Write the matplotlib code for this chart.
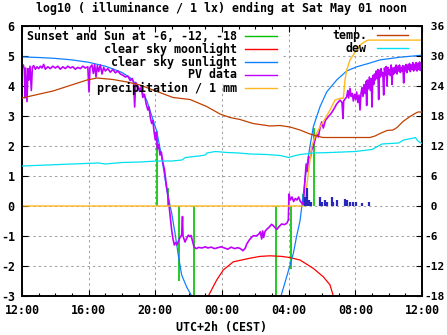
import numpy as np
import matplotlib
matplotlib.use("Agg")
import matplotlib.pyplot as plt
from matplotlib.lines import Line2D

W, H, DPI = 447, 335, 100

# ---- time axis: hours after 12:00 local time (UTC+2) ----
hour_ticks = [0, 4, 8, 12, 16, 20, 24]
hour_labels = ["12:00", "16:00", "20:00", "00:00", "04:00", "08:00", "12:00"]
left_ticks = list(range(-3, 7))
right_ticks = list(range(-18, 37, 6))

# sunset, sun at -6/-12/-18 deg (evening), then -18/-12/-6 deg and sunrise (morning)
sun_hours = [8.12, 8.74, 9.44, 10.34, 15.26, 16.12, 16.88, 17.52]
sun_levels = [2.5, 0.6, -2.5, -3.5, -3.5, -2.1, 0.4, 2.6]

# clear sky moonlight, log10 lx
moon_hours = [11.0, 11.18, 11.68, 12.08, 12.68, 13.68, 14.28, 14.88, 15.58,
              16.08, 16.68, 17.48, 18.08, 18.48, 18.68, 18.8]
moon_levels = [-3.3, -3.0, -2.47, -2.13, -1.86, -1.74, -1.68, -1.66, -1.68,
               -1.72, -1.8, -2.08, -2.36, -2.63, -3.0, -3.3]

# clear sky sunlight, log10 lx (no value while the sun is far below the horizon)
clear_hours = [0, 1, 2, 3, 4, 5, 5.5, 6, 6.5, 7, 7.3, 7.5, 7.8, 8.08, 8.38,
               8.68, 8.98, 9.18, 9.38, 9.58, 9.88, 10.18, 10.4, 12.0,
               15.4, 15.54, 15.88, 16.28, 16.48, 16.68, 16.88, 17.08, 17.28,
               17.48, 17.88, 18.28, 18.88, 19.48, 20.08, 20.78, 21.48, 22.68,
               23.88, 24]
clear_levels = [4.97, 4.95, 4.92, 4.87, 4.79, 4.66, 4.56, 4.45, 4.27, 3.95,
                3.72, 3.5, 2.98, 2.5, 1.64, 0.55, -0.24, -0.9, -1.65, -2.3,
                -2.7, -3.0, -3.3, np.nan,
                -3.3, -3.0, -2.36, -1.58, -1.0, -0.5, 0.4, 1.3, 2.0,
                2.64, 3.31, 3.8, 4.2, 4.5, 4.64, 4.75, 4.87, 4.96,
                5.02, 5.03]

# photovoltaic sensor, log10 lx
pv_hours = [
    0.00, 0.08, 0.14, 0.18, 0.22, 0.30, 0.36, 0.42, 0.48, 0.56, 0.62, 0.70,
    0.80, 0.90, 1.00, 1.10, 1.20, 1.30, 1.40, 1.55, 1.70, 1.85, 2.00, 2.15,
    2.30, 2.45, 2.60, 2.75, 2.90, 3.05, 3.20, 3.35, 3.50, 3.65, 3.80, 3.95,
    4.02, 4.08, 4.20, 4.28, 4.36, 4.44, 4.52, 4.60, 4.70, 4.80, 4.90, 5.00,
    5.15, 5.30, 5.45, 5.60, 5.75, 5.90, 6.05, 6.20, 6.35, 6.50, 6.62, 6.70,
    6.76, 6.82, 6.95, 7.05, 7.15, 7.25, 7.35, 7.45, 7.55, 7.62, 7.70, 7.78,
    7.85, 7.92, 8.00, 8.05, 8.12, 8.20, 8.28, 8.36, 8.45, 8.55, 8.65, 8.75,
    8.82, 8.90, 8.98, 9.06, 9.14, 9.22, 9.30, 9.38, 9.48, 9.58, 9.63, 9.66,
    9.78, 9.88, 9.98, 10.06, 10.14, 10.22, 10.32, 10.45, 10.60, 10.80, 11.00,
    11.15, 11.35, 11.55, 11.75, 11.95, 12.15, 12.35, 12.55, 12.75, 12.95,
    13.10, 13.26, 13.40, 13.48, 13.64, 13.76, 13.88, 14.05, 14.20, 14.30,
    14.38, 14.44, 14.50, 14.58, 14.68, 14.80, 14.98, 15.08, 15.18, 15.30,
    15.40, 15.58, 15.75, 15.88, 15.98, 16.02, 16.10, 16.20, 16.30, 16.40,
    16.50, 16.60, 16.70, 16.80, 16.88, 16.98, 17.05, 17.12, 17.20, 17.30,
    17.38, 17.48, 17.58, 17.68, 17.78, 17.88, 17.98, 18.08, 18.20, 18.38,
    18.50, 18.68, 18.88, 19.08, 19.20, 19.26, 19.30, 19.48, 19.55, 19.60,
    19.68, 19.75, 19.82, 19.88, 19.95, 20.02, 20.08, 20.15, 20.22, 20.28,
    20.34, 20.40, 20.46, 20.52, 20.58, 20.64, 20.68, 20.72, 20.78, 20.84,
    20.90, 20.96, 21.00, 21.05, 21.10, 21.15, 21.20, 21.25, 21.30, 21.35,
    21.40, 21.45, 21.50, 21.55, 21.60, 21.65, 21.70, 21.75, 21.80, 21.85,
    21.90, 21.95, 22.00, 22.05, 22.10, 22.15, 22.20, 22.25, 22.30, 22.35,
    22.40, 22.45, 22.50, 22.55, 22.60, 22.65, 22.70, 22.75, 22.80, 22.85,
    22.90, 22.95, 23.00, 23.05, 23.10, 23.15, 23.20, 23.25, 23.30, 23.35,
    23.40, 23.45, 23.50, 23.55, 23.60, 23.65, 23.70, 23.75, 23.80, 23.85,
    23.90, 23.95, 24.00]
pv_levels = [
    4.62, 4.70, 4.55, 3.60, 4.60, 3.48, 4.58, 4.20, 4.66, 3.85, 4.62, 4.68,
    4.56, 4.64, 4.58, 4.66, 4.60, 4.72, 4.56, 4.64, 4.58, 4.66, 4.60, 4.66,
    4.56, 4.64, 4.58, 4.66, 4.60, 4.64, 4.56, 4.62, 4.58, 4.66, 4.60, 4.64,
    3.80, 4.62, 4.70, 4.42, 4.72, 4.30, 4.68, 4.48, 4.70, 4.40, 4.62, 4.50,
    4.58, 4.46, 4.55, 4.44, 4.50, 4.40, 4.36, 4.30, 4.33, 4.18, 4.25, 4.10,
    3.30, 4.12, 4.00, 3.82, 3.96, 3.62, 3.72, 3.40, 3.20, 3.30, 2.95, 2.75,
    2.85, 2.50, 2.20, 2.45, 1.90, 2.05, 1.70, 1.80, 1.45, 1.20, 0.75, 0.35,
    0.03, -0.40, -0.80, -1.10, -1.30, -1.22, -1.30, -1.18, -1.05, -0.97, -0.35, -1.00,
    -1.20, -1.08, -0.97, -1.02, -0.98, -1.15, -1.36, -1.42, -1.38, -1.40, -1.36,
    -1.40, -1.37, -1.42, -1.39, -1.36, -1.40, -1.44, -1.37, -1.42, -1.39,
    -1.42, -1.49, -1.40, -1.27, -1.13, -1.05, -0.99, -1.00, -0.94, -0.86,
    -1.10, -0.83, -1.05, -0.85, -0.78, -0.72, -0.61, -0.66, -0.72, -0.78,
    -0.70, -0.60, -0.62, -0.58, -0.47, 0.40, 0.20, 0.30, 0.15, 0.25,
    0.20, 0.30, 0.15, 0.10, 0.05, 0.90, 1.40, 1.15, 1.64, 1.60,
    1.87, 2.00, 2.20, 2.40, 2.30, 2.60, 2.80, 2.60, 2.85, 2.98,
    3.05, 3.20, 3.40, 3.53, 3.45, 2.92, 3.50, 3.64, 3.85, 3.60,
    3.92, 3.65, 3.75, 3.50, 3.72, 3.55, 3.80, 3.45, 3.70, 3.20,
    3.75, 3.95, 3.65, 4.05, 3.75, 4.15, 3.35, 4.20, 3.90, 4.30,
    3.85, 4.25, 3.30, 4.35, 4.05, 4.40, 4.20, 4.50, 4.25, 4.55,
    3.55, 4.52, 4.30, 4.58, 4.35, 4.45, 3.70, 4.60, 4.35, 4.65,
    4.00, 4.62, 4.40, 4.55, 4.35, 4.70, 4.05, 4.60, 4.40, 4.62,
    4.45, 4.70, 4.40, 4.66, 4.50, 4.70, 4.45, 4.62, 4.50, 4.68,
    4.10, 4.66, 4.50, 4.72, 4.45, 4.70, 4.55, 4.75, 4.48, 4.70,
    4.55, 4.78, 4.50, 4.72, 4.55, 4.78, 4.50, 4.75, 4.55, 4.80,
    4.52, 4.76, 4.70]

# accumulated precipitation, mm
prec_hours = [0, 16.98, 17.08, 17.18, 17.28, 17.38, 17.58, 17.88, 18.08,
              18.48, 18.78, 19.08, 19.28, 19.38, 19.48, 19.68, 20.08, 20.28,
              20.58, 20.78, 24]
prec_mm = [0, 0, 0.64, 1.09, 1.53, 1.98, 2.31, 2.64, 2.81, 3.2, 3.53, 3.59,
           3.59, 4.2, 4.53, 4.87, 5.2, 5.37, 5.48, 5.53, 5.53]

# rain per interval, mm
rain_hours = [16.98, 17.10, 17.22, 17.34, 17.88, 18.00, 18.18, 18.30, 18.58,
              18.66, 18.88, 19.38, 19.50, 19.68, 19.86, 20.04, 20.40, 20.82]
rain_mm = [0.3, 0.6, 0.2, 0.15, 0.3, 0.15, 0.2, 0.15, 0.3, 0.15, 0.2, 0.25,
           0.2, 0.15, 0.15, 0.15, 0.1, 0.12]

# temperature and dew point, deg C
temp_hours = [0, 1.86, 3.9, 4.5, 5.46, 6.3, 7.08, 7.86, 9.06, 10.08, 11.08,
              11.88, 12.48, 13.08, 13.86, 14.88, 15.48, 16.08, 16.68, 17.28,
              17.68, 18.06, 20.88, 21.18, 21.48, 21.9, 22.26, 22.5, 22.86,
              23.28, 23.58, 23.76, 24]
temp_c = [21.6, 23.0, 25.2, 25.6, 25.3, 24.8, 24.2, 23.2, 21.7, 21.3, 19.9,
          18.4, 17.7, 17.3, 16.5, 16.0, 16.1, 15.8, 15.2, 14.4, 14.0, 13.7,
          13.7, 14.0, 14.5, 15.1, 15.2, 15.7, 16.9, 17.9, 18.5, 18.8, 18.8]
dew_hours = [0, 1.5, 3.0, 4.6, 5.0, 6.0, 7.1, 8.1, 9.0, 9.6, 9.8, 10.6, 11.0,
             11.1, 11.6, 12.3, 13.0, 13.7, 14.7, 15.5, 16.0, 16.3, 16.7, 17.5,
             18.5, 20.0, 21.0, 21.6, 22.6, 22.9, 23.5, 23.6, 23.75, 24]
dew_c = [8.0, 8.2, 8.4, 8.6, 8.4, 8.7, 8.8, 9.0, 9.0, 9.2, 9.7, 10.0, 10.2,
         10.6, 10.9, 10.7, 10.6, 10.4, 10.3, 10.1, 9.7, 10.0, 10.3, 10.6,
         10.7, 10.9, 11.3, 12.4, 12.6, 13.2, 13.6, 13.7, 13.0, 12.5]

C_SUN = "#00c000"
C_MOON = "#ff0000"
C_CLEAR = "#1080ff"
C_PV = "#c000ff"
C_PREC = "#ffb820"
C_RAIN = "#2828c0"
C_TEMP = "#c04000"
C_DEW = "#00e0f0"
C_GRID = "#a0a0a0"

plt.rcParams["font.family"] = ["DejaVu Sans Mono"]
plt.rcParams["font.weight"] = "bold"
FS = 8.4

fig = plt.figure(figsize=(W / DPI, H / DPI), dpi=DPI)
fig.patch.set_facecolor("white")

# plot frame in pixels
PX0, PX1, PY0, PY1 = 22, 422, 26, 296
ax = fig.add_axes([PX0 / W, 1 - PY1 / H, (PX1 - PX0) / W, (PY1 - PY0) / H])
ax.set_xlim(0, 24)
ax.set_ylim(-3, 6)

# key box (upper left) keeps the grid out of the text
KEY_RIGHT_PX, KEY_BOTTOM_PX = 283, 84
key_xfrac = (KEY_RIGHT_PX - PX0) / (PX1 - PX0)
key_yfrac = (PY1 - KEY_BOTTOM_PX) / (PY1 - PY0)
key_value_bottom = 6 - (KEY_BOTTOM_PX - PY0) / (PY1 - PY0) * 9 - 0.2

gkw = dict(color=C_GRID, lw=0.75, linestyle=(0, (2.2, 3.0)), zorder=1)
for hx in hour_ticks[1:-1]:
    top = key_yfrac if hx / 24 < key_xfrac else 1
    ax.axvline(hx, ymin=0, ymax=top, **gkw)
for yv in left_ticks[1:-1]:
    start = key_xfrac if yv > key_value_bottom else 0
    ax.axhline(yv, xmin=start, xmax=1, **gkw)

ax.vlines(sun_hours, 0, sun_levels, color=C_SUN, lw=1.2, zorder=2)
ax.plot(moon_hours, moon_levels, color=C_MOON, lw=0.9, zorder=2.1)
ax.plot(clear_hours, clear_levels, color=C_CLEAR, lw=0.9, zorder=2.2)
ax.plot(pv_hours, pv_levels, color=C_PV, lw=1.2, zorder=2.3)
ax.plot(prec_hours, prec_mm, color=C_PREC, lw=1.0, zorder=2.4)
ax.vlines(rain_hours, 0, rain_mm, color=C_RAIN, lw=1.6, zorder=2.5)

ax.set_xticks(hour_ticks)
ax.set_xticklabels(hour_labels, fontsize=FS, fontweight="bold")
ax.set_xticks(range(0, 25), minor=True)
ax.set_yticks(left_ticks)
ax.set_yticklabels([f"{v: d}" for v in left_ticks], fontsize=FS, fontweight="bold")
ax.tick_params(axis="x", which="major", direction="in", length=4, width=0.8,
               top=True, pad=6)
ax.tick_params(axis="x", which="minor", direction="in", length=2, width=0.8,
               top=True)
ax.tick_params(axis="y", which="major", direction="in", length=4, width=0.8,
               right=False, pad=5)
for sp in ax.spines.values():
    sp.set_linewidth(1.2)

ax2 = ax.twinx()
ax2.set_ylim(-18, 36)
ax2.plot(temp_hours, temp_c, color=C_TEMP, lw=0.9, zorder=3)
ax2.plot(dew_hours, dew_c, color=C_DEW, lw=0.9, zorder=3)
ax2.set_yticks(right_ticks)
# right-hand labels: sign column kept, fitted inside the right margin
ax2.set_yticklabels([f"{v: d}" for v in right_ticks], fontsize=8.0, fontweight="bold")
ax2.tick_params(axis="y", direction="in", length=4, width=0.8, pad=1.8)
for sp in ax2.spines.values():
    sp.set_linewidth(1.2)


def fx(px):
    return px / W


def fy(py):
    return 1 - py / H


tkw = dict(fontsize=FS, fontweight="bold", color="black")
fig.text(fx(221.5), fy(8), "log10 ( illuminance / 1 lx) ending at Sat May 01 noon",
         ha="center", va="center", **tkw)
fig.text(fx(221), fy(327), "UTC+2h (CEST)", ha="center", va="center", **tkw)

# key, left column
left_key = [("Sunset and Sun at -6, -12, -18", C_SUN),
            ("clear sky moonlight", C_MOON),
            ("clear sky sunlight", C_CLEAR),
            ("PV data", C_PV),
            ("precipitation / 1 mm", C_PREC)]
for i, (label, col) in enumerate(left_key):
    yy = 36 + 13 * i
    fig.text(fx(237), fy(yy), label, ha="right", va="center", **tkw)
    fig.add_artist(Line2D([fx(245), fx(277)], [fy(yy), fy(yy)], color=col, lw=1.0))

# key, right column
right_key = [("temp.", C_TEMP), ("dew", C_DEW)]
for i, (label, col) in enumerate(right_key):
    yy = 35 + 13 * i
    fig.text(fx(367), fy(yy), label, ha="right", va="center", **tkw)
    fig.add_artist(Line2D([fx(377), fx(408)], [fy(yy), fy(yy)], color=col, lw=1.0))

fig.savefig("out.png", dpi=DPI)
